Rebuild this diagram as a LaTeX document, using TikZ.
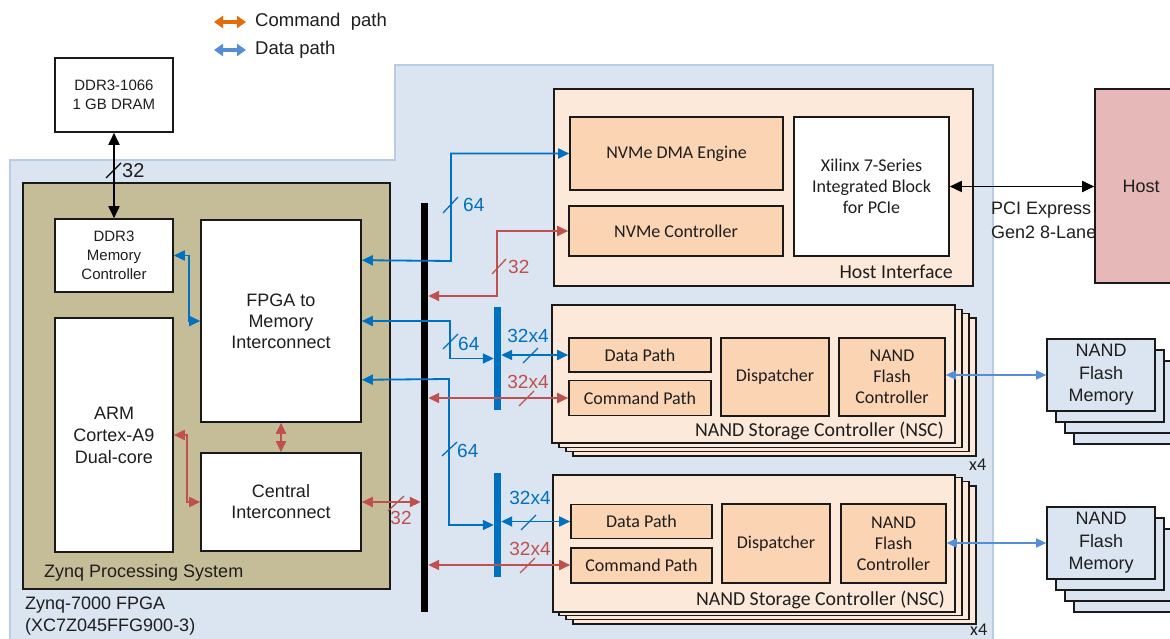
\documentclass[tikz,border=0pt]{standalone}
\usepackage{fontspec}
\setmainfont{Liberation Sans}
\newfontfamily\calfont{Carlito}
\usetikzlibrary{arrows.meta,calc}
\definecolor{fpgabg}{HTML}{DBE5F1}
\definecolor{fpgaln}{HTML}{B8CCE4}
\definecolor{tan}{HTML}{C4BD97}
\definecolor{peach}{HTML}{FDE9D9}
\definecolor{peachd}{HTML}{FBD4B4}
\definecolor{hostc}{HTML}{E6B9B8}
\definecolor{nandc}{HTML}{DBE5F1}
\definecolor{dblue}{HTML}{0070C0}
\definecolor{cred}{HTML}{C0504D}
\definecolor{lblue}{HTML}{558ED5}
\definecolor{lorange}{HTML}{E46C0A}
\definecolor{txt}{HTML}{1E1E1E}
\definecolor{edge}{HTML}{1A1A1A}
\newcommand\szA{\fontsize{18}{21}\selectfont}
\newcommand\szB{\fontsize{15}{19}\selectfont}
\newcommand\szN{\fontsize{19}{21}\selectfont}
\newcommand\szL{\fontsize{18.5}{21}\selectfont}
\newcommand\szC{\fontsize{19.8}{22}\selectfont}
\begin{document}
\begin{tikzpicture}[x=1pt,y=-1pt,
  >={Triangle[length=11pt,width=10pt]},
  box/.style={draw=edge,line width=1.6pt,fill=white,inner sep=0pt,align=center,text=txt,font=\szA},
  cbox/.style={box,fill=peachd,font=\calfont\szA},
  bar/.style={inner sep=0pt,minimum width=7pt},
  dat/.style={draw=dblue,line width=1.8pt,<->},
  cmd/.style={draw=cred,line width=1.8pt,<->},
  blk/.style={draw=black,line width=1.8pt,{Triangle[length=12pt,width=11pt]}-{Triangle[length=12pt,width=11pt]}},
  nnd/.style={draw=lblue,line width=1.5pt,{Triangle[length=10pt,width=9pt]}-{Triangle[length=10pt,width=9pt]}},
  slsh/.style={line width=1.3pt},
  lbl/.style={inner sep=0pt,text=txt,font=\szA},
  num/.style={inner sep=0pt,font=\szN}]
\clip (0,0) rectangle (1170,639);
\fill[white] (0,0) rectangle (1170,639);

% legend
\coordinate (lgoa) at (214,22); \coordinate (lgob) at (246,22);
\coordinate (lgba) at (214,50); \coordinate (lgbb) at (246,50);
\draw[draw=lorange,line width=3.5pt,{Triangle[length=9pt,width=12pt]}-{Triangle[length=9pt,width=12pt]}] (lgoa) -- (lgob);
\draw[draw=lblue,line width=3.5pt,{Triangle[length=9pt,width=12pt]}-{Triangle[length=9pt,width=12pt]}] (lgba) -- (lgbb);
\node[lbl,font=\szL,anchor=west] (lgc) at (255,22) {Command\ \ path};
\node[lbl,font=\szL,anchor=west] (lgd) at (255,50) {Data path};

% Zynq FPGA region
\draw[fill=fpgabg,draw=fpgaln,line width=2pt] (10,650) -- (10,160) -- (395,160) -- (395,65) -- (993,65) -- (993,650) -- cycle;
\node[lbl,anchor=west,align=left] (zf1) at (25,605) {Zynq-7000 FPGA};
\node[lbl,anchor=west,align=left] (zf2) at (25,627) {(XC7Z045FFG900-3)};

% DDR3 DRAM
\node[box,font=\szB,minimum width=118pt,minimum height=74pt] (ddr) at (114,95) {DDR3-1066\\1 GB DRAM};

% Zynq PS
\node[box,fill=tan,minimum width=367pt,minimum height=406pt] (zps) at (206.5,386) {};
\node[lbl,anchor=west] (zpsl) at (44,573) {Zynq Processing System};
\node[box,font=\szB,minimum width=118pt,minimum height=73pt] (ddrmc) at (114,255.5) {DDR3\\Memory\\Controller};
\node[box,minimum width=160pt,minimum height=202pt] (fpga) at (281,321) {FPGA to\\Memory\\Interconnect};
\node[box,font=\fontsize{18}{22}\selectfont,minimum width=118pt,minimum height=234pt] (arm) at (114,435) {ARM\\Cortex-A9\\Dual-core};
\node[box,minimum width=160pt,minimum height=98pt] (central) at (281,502) {Central\\Interconnect};

% Host interface
\node[box,fill=peach,minimum width=419pt,minimum height=197pt] (hi) at (763.5,187.5) {};
\node[lbl,font=\calfont\szC,anchor=east] (hil) at (953,272) {Host Interface};
\node[cbox,minimum width=213pt,minimum height=73pt] (dma) at (676.5,153.5) {NVMe DMA Engine};
\node[cbox,minimum width=214pt,minimum height=50pt] (nvmec) at (676,231) {NVMe Controller};
\node[box,font=\calfont\szA,minimum width=155pt,minimum height=139pt] (xil) at (871.5,186.5) {Xilinx 7-Series\\Integrated Block\\for PCIe};

% Host
\node[box,fill=hostc,minimum width=110pt,minimum height=194pt] (host) at (1150,186) {};
\node[lbl] (hostl) at (1141,186) {Host};
\node[lbl,anchor=west,align=left] (pci1) at (991,210) {PCI Express};
\node[lbl,anchor=west,align=left] (pci2) at (991,232) {Gen2 8-Lane};

% NSC stacks
\foreach \yy/\nm in {0/1,168/2}{
  \foreach \k in {3,2,1}{
    \draw[draw=edge,line width=1.6pt,fill=peach] (552+7*\k,305+\yy+4.3*\k) rectangle (955+7*\k,443+\yy+4.3*\k);
  }
}
\node[box,fill=peach,minimum width=403pt,minimum height=138pt] (nsc1) at (753.5,374) {};
\node[box,fill=peach,minimum width=402pt,minimum height=137pt] (nsc2) at (754,543.5) {};
\node[lbl,font=\calfont\szC,anchor=east] (nsc1l) at (944,431) {NAND Storage Controller (NSC)};
\node[lbl,font=\calfont\szC,anchor=east] (nsc2l) at (945,600) {NAND Storage Controller (NSC)};
\node[lbl,font=\calfont\szA,anchor=west] (x4a) at (969,465) {x4};
\node[lbl,font=\calfont\szA,anchor=west] (x4b) at (970,630) {x4};

\node[cbox,minimum width=142pt,minimum height=34pt] (dp1) at (640,355) {Data Path};
\node[cbox,minimum width=142pt,minimum height=35pt] (cp1) at (640,398) {Command Path};
\node[cbox,minimum width=108pt,minimum height=78pt] (disp1) at (775,377) {Dispatcher};
\node[cbox,minimum width=106pt,minimum height=78pt] (nfc1) at (892,377) {NAND\\Flash\\Controller};
\node[cbox,minimum width=141pt,minimum height=34pt] (dp2) at (641.5,521.5) {Data Path};
\node[cbox,minimum width=141pt,minimum height=35pt] (cp2) at (641.5,565.5) {Command Path};
\node[cbox,minimum width=108pt,minimum height=79pt] (disp2) at (776,543.5) {Dispatcher};
\node[cbox,minimum width=105pt,minimum height=79pt] (nfc2) at (893.5,543.5) {NAND\\Flash\\Controller};

% NAND flash memory stacks
\foreach \yy/\nm in {0/1,168/2}{
  \foreach \k in {3,2,1}{
    \draw[draw=edge,line width=1.6pt,fill=nandc] (1047+9*\k,339+\yy+11*\k) rectangle (1155+9*\k,411+\yy+11*\k);
  }
}
\node[box,fill=nandc,font=\fontsize{18}{22.5}\selectfont,minimum width=108pt,minimum height=72pt] (nand1) at (1101,375) {NAND\\Flash\\Memory};
\node[box,fill=nandc,font=\fontsize{18}{22.5}\selectfont,minimum width=108pt,minimum height=72pt] (nand2) at (1101,543) {NAND\\Flash\\Memory};

% buses
\node[bar,fill=black,minimum height=409pt] (bus) at (424.5,407.5) {};
\node[bar,fill=dblue,minimum height=103pt] (sb1) at (497.5,358.5) {};
\node[bar,fill=dblue,minimum height=104pt] (sb2) at (497.5,525) {};

% connectors
\draw[blk] (ddr.south) -- (ddrmc.north);
\draw[slsh] (114,170) ++(-8,8) -- ++(15,-15);
\node[num,font=\fontsize{20}{22}\selectfont,anchor=west,text=txt] (n32a) at (122,171) {32};

\draw[dat] (ddrmc.east) -- ++(15,0) |- (fpga.west);
\draw[cmd] (arm.east) -- ++(13,0) |- (central.west);
\draw[cmd] (fpga.south) -- (central.north);

\draw[dat] ($(fpga.north east)+(0,41)$) -- (451,261) |- (dma.west);
\draw[dblue,slsh] (451,205) ++(-8,8) -- ++(15,-16);
\node[num,anchor=west,text=dblue] (n64a) at (463,205) {64};

\draw[cmd] (bus.east |- 0,296) -- (497,296) |- (nvmec.west);
\draw[cred,slsh] (499,266) ++(-7,8) -- ++(14,-15);
\node[num,anchor=west,text=cred] (n32b) at (508,267) {32};

\draw[dat] (fpga.east) -- (450,321) |- (sb1.west);
\draw[dblue,slsh] (450,341) ++(-7,8) -- ++(15,-15);
\node[num,anchor=west,text=dblue] (n64b) at (458,344) {64};

\draw[dat] ($(fpga.south east)+(0,-43)$) -- (449,379) |- (sb2.west);
\draw[dblue,slsh] (449,449) ++(-7,7) -- ++(15,-14);
\node[num,anchor=west,text=dblue] (n64c) at (457,451) {64};

\draw[dat] (sb1.east |- dp1.west) -- (dp1.west);
\draw[dblue,slsh] (530,355) ++(-7,8) -- ++(15,-15);
\node[num,text=dblue] (n324a) at (528,336) {32x4};
\draw[cmd] (bus.east |- cp1.west) -- (cp1.west);
\draw[cred,slsh] (526,398) ++(-7,8) -- ++(15,-15);
\node[num,text=cred] (n324b) at (528,382) {32x4};

\draw[dat] (sb2.east |- dp2.west) -- (dp2.west);
\draw[dblue,slsh] (528,522) ++(-7,8) -- ++(15,-15);
\node[num,text=dblue] (n324c) at (530,498) {32x4};
\draw[cmd] (bus.east |- 0,565) -- (cp2.west |- 0,565);
\draw[cred,slsh] (527,565) ++(-7,8) -- ++(15,-15);
\node[num,text=cred] (n324d) at (530,549) {32x4};

\draw[cmd] (central.east) -- (bus.west |- central.east);
\draw[cred,slsh] (396,503) ++(-8,8) -- ++(16,-15);
\node[num,text=cred] (n32c) at (401,518) {32};

\draw[blk] (xil.east) -- (host.west |- xil.east);
\draw[nnd] (nfc1.east |- 0,375) -- (nand1.west);
\draw[nnd] (nfc2.east |- 0,543) -- (nand2.west);
\end{tikzpicture}
\end{document}
